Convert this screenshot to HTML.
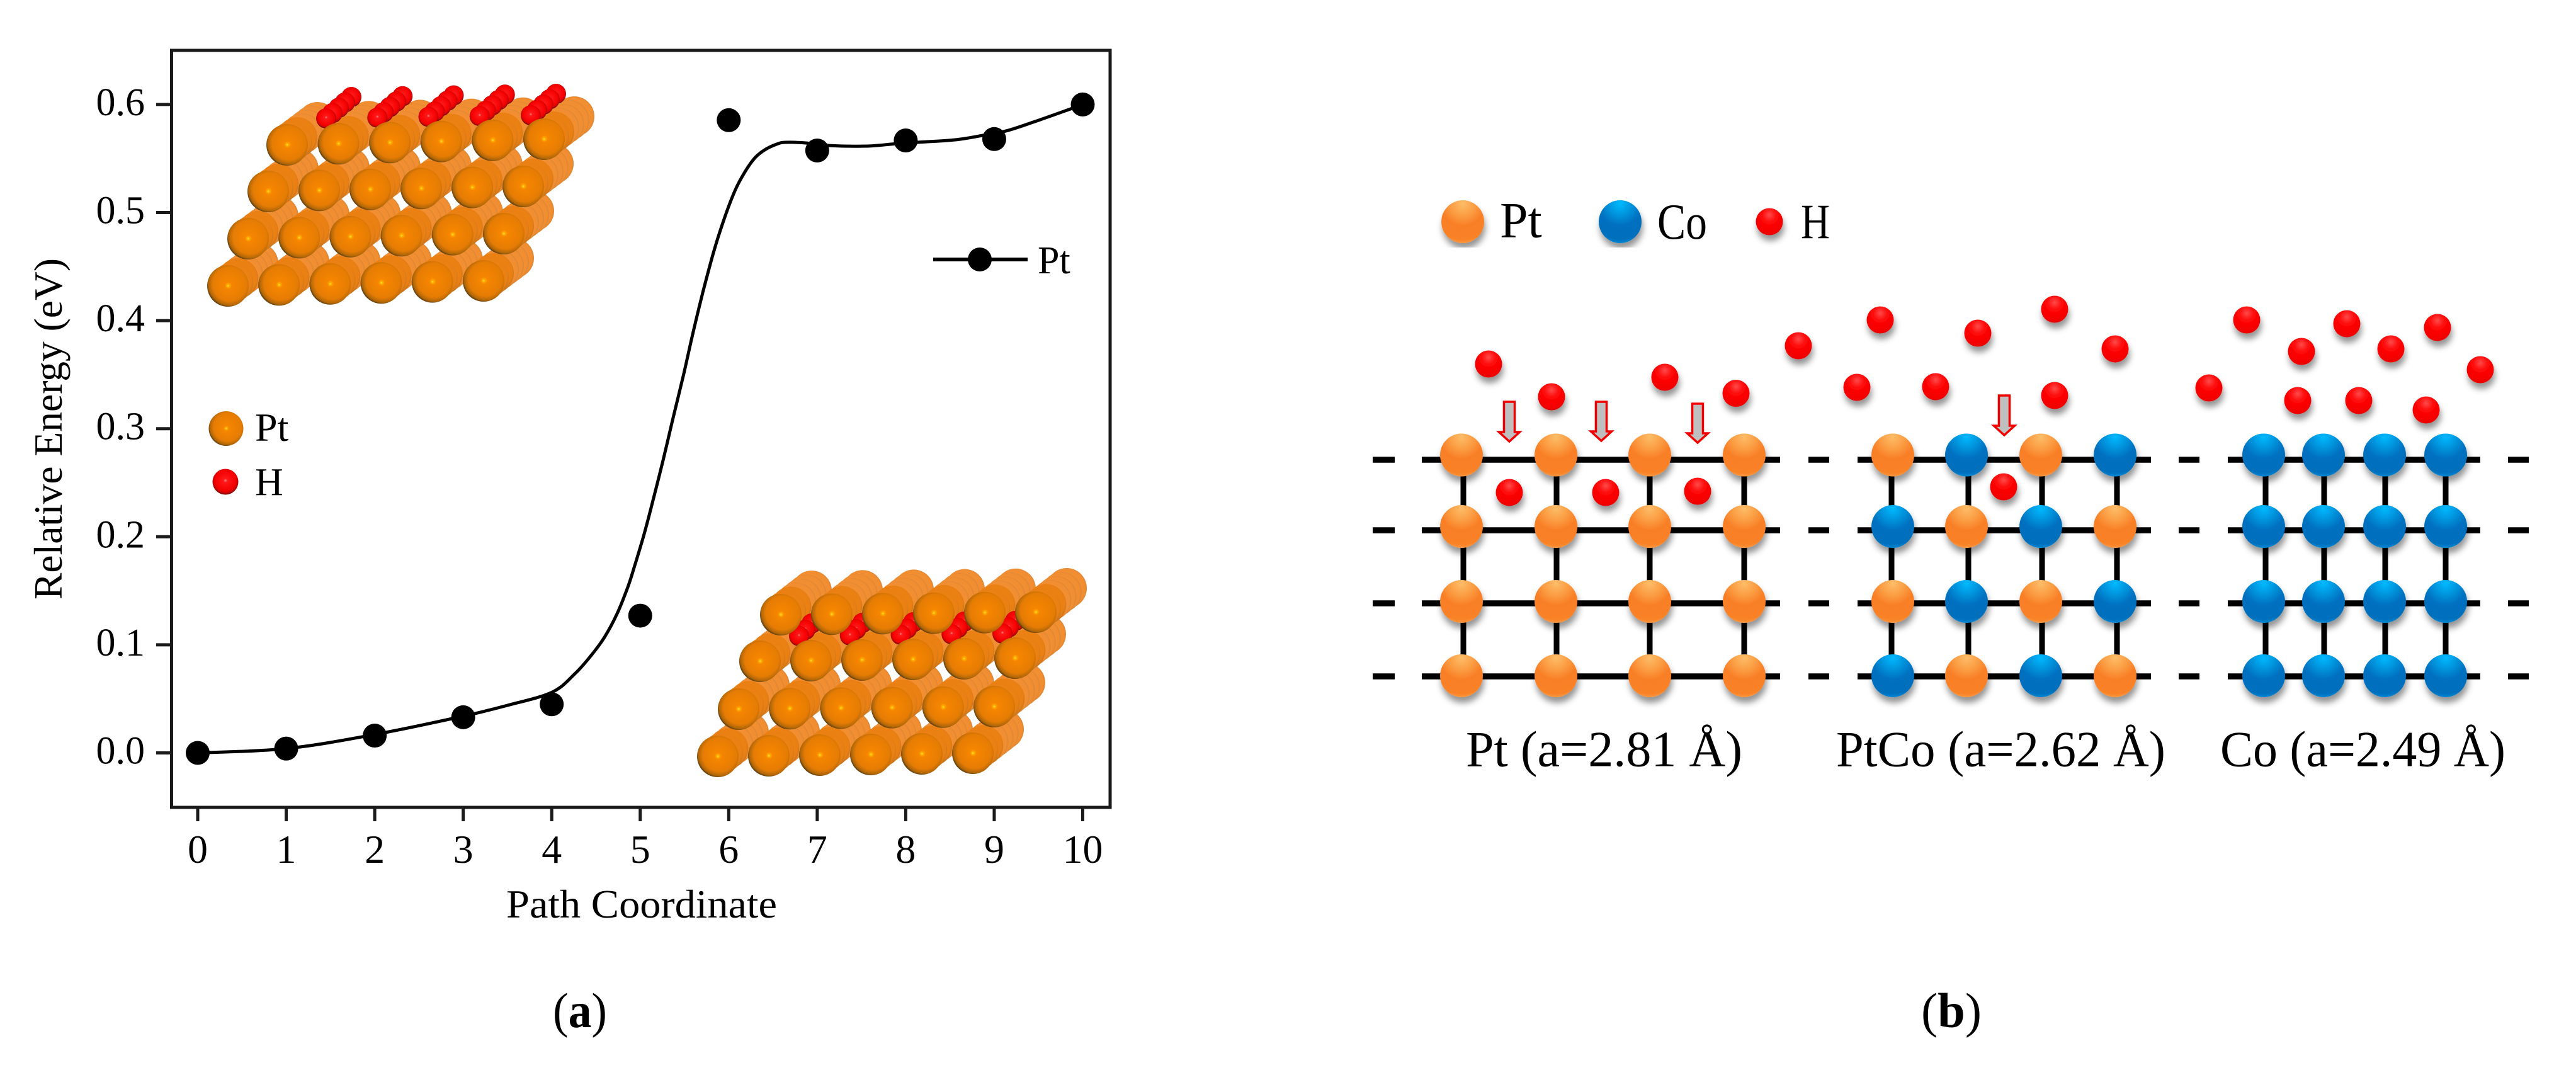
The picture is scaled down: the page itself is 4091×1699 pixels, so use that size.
<!DOCTYPE html>
<html lang="en">
<head>
<meta charset="utf-8">
<title>Pt hydrogen path energy and lattice models</title>
<style>
html,body{margin:0;padding:0;background:#fff;}
svg{display:block;}
text{font-family:"Liberation Serif",serif;fill:#000;}
.ha{fill:url(#hGrad);}
</style>
</head>
<body>
<svg id="fig" xmlns="http://www.w3.org/2000/svg" width="4091" height="1699" viewBox="0 0 4091 1699">
<defs>
<radialGradient id="ptFront" cx="56%" cy="44%" r="58%" fx="50%" fy="50%">
<stop offset="0" stop-color="#ffe848"/><stop offset=".05" stop-color="#ffb000"/><stop offset=".14" stop-color="#f68600"/><stop offset=".7" stop-color="#e67c04"/><stop offset=".9" stop-color="#b06608"/><stop offset="1" stop-color="#5a3c10"/>
</radialGradient>
<radialGradient id="ptMid" cx="50%" cy="46%" r="56%">
<stop offset="0" stop-color="#f08410"/><stop offset=".82" stop-color="#ea8014"/><stop offset="1" stop-color="#b87020"/>
</radialGradient>
<radialGradient id="ptRear" cx="48%" cy="50%" r="55%">
<stop offset="0" stop-color="#f69336"/><stop offset=".85" stop-color="#f28e32"/><stop offset="1" stop-color="#cf8236"/>
</radialGradient>
<radialGradient id="hSlab" cx="50%" cy="45%" r="52%">
<stop offset="0" stop-color="#ff9090"/><stop offset=".14" stop-color="#ff1818"/><stop offset=".78" stop-color="#f40000"/><stop offset=".96" stop-color="#b80808"/><stop offset="1" stop-color="#800404"/>
</radialGradient>
<radialGradient id="orangeGrad" cx="50%" cy="8%" r="98%">
<stop offset="0" stop-color="#fdbd68"/><stop offset=".3" stop-color="#fb9c42"/><stop offset=".52" stop-color="#f97f27"/><stop offset=".85" stop-color="#f98126"/><stop offset="1" stop-color="#fca64e"/>
</radialGradient>
<radialGradient id="blueGrad" cx="50%" cy="8%" r="98%">
<stop offset="0" stop-color="#00baff"/><stop offset=".3" stop-color="#0090da"/><stop offset=".52" stop-color="#0070bf"/><stop offset=".85" stop-color="#006fbd"/><stop offset="1" stop-color="#009ae6"/>
</radialGradient>
<radialGradient id="hGrad" cx="50%" cy="25%" r="80%">
<stop offset="0" stop-color="#ff4a4a"/><stop offset=".35" stop-color="#ff0808"/><stop offset=".8" stop-color="#f40000"/><stop offset="1" stop-color="#e80000"/>
</radialGradient>
<filter id="soft" x="-6%" y="-6%" width="112%" height="116%">
<feDropShadow dx="2" dy="9" stdDeviation="5" flood-color="#000" flood-opacity="0.42"/>
</filter>
</defs>

<g id="panelA">
  <g id="slabs"></g>
  <rect x="272.5" y="80" width="1490.5" height="1202" fill="none" stroke="#1a1a1a" stroke-width="5"/>
  <g id="axes"></g>
  <path id="fitCurve" fill="none" stroke="#000" stroke-width="5" stroke-linejoin="round"/>
  <g id="points"></g>
  <text transform="translate(98,952) rotate(-90)" font-size="64" textLength="542" lengthAdjust="spacingAndGlyphs">Relative Energy (eV)</text>
  <text x="804" y="1457" font-size="64" textLength="430" lengthAdjust="spacingAndGlyphs">Path Coordinate</text>
  <g>
    <line x1="1482" y1="412" x2="1632" y2="412" stroke="#000" stroke-width="6"/>
    <circle cx="1556" cy="412" r="19" fill="#000"/>
    <text x="1648" y="434" font-size="62">Pt</text>
  </g>
  <g>
    <circle cx="359" cy="680.5" r="27.5" fill="url(#ptFront)"/>
    <text x="405" y="700" font-size="64">Pt</text>
    <circle cx="358" cy="765" r="20.5" fill="url(#hSlab)"/>
    <text x="405" y="786" font-size="62">H</text>
  </g>
  <text x="878" y="1631" font-size="78" textLength="86" lengthAdjust="spacingAndGlyphs">(<tspan font-weight="bold">a</tspan>)</text>
</g>

<g id="panelB">
  <g filter="url(#soft)">
    <circle cx="2323" cy="352" r="34" fill="url(#orangeGrad)"/>
    <circle cx="2573" cy="352" r="34" fill="url(#blueGrad)"/>
    <circle class="ha" cx="2810" cy="352" r="21.5"/>
  </g>
  <text x="2382" y="376.5" font-size="80">Pt</text>
  <text x="2632" y="379" font-size="80" textLength="79" lengthAdjust="spacingAndGlyphs">Co</text>
  <text x="2860" y="378" font-size="78" textLength="46" lengthAdjust="spacingAndGlyphs">H</text>

  <g id="latticeLines"></g>
  <g id="latticeAtoms" filter="url(#soft)"></g>

  <g filter="url(#soft)">
    <circle class="ha" cx="2364" cy="578" r="21.5"/>
    <circle class="ha" cx="2464" cy="630" r="21.5"/>
    <circle class="ha" cx="2644" cy="599" r="21.5"/>
    <circle class="ha" cx="2757" cy="624.5" r="21.5"/>
    <circle class="ha" cx="2856" cy="549" r="21.5"/>
    <circle class="ha" cx="2986" cy="508" r="21.5"/>
    <circle class="ha" cx="2949" cy="615" r="21.5"/>
    <circle class="ha" cx="3074" cy="614" r="21.5"/>
    <circle class="ha" cx="2397" cy="782" r="21.5"/>
    <circle class="ha" cx="2550" cy="782" r="21.5"/>
    <circle class="ha" cx="2696" cy="780" r="21.5"/>
    <circle class="ha" cx="3141" cy="529" r="21.5"/>
    <circle class="ha" cx="3263" cy="491" r="21.5"/>
    <circle class="ha" cx="3359" cy="554" r="21.5"/>
    <circle class="ha" cx="3263" cy="628" r="21.5"/>
    <circle class="ha" cx="3182" cy="773" r="21.5"/>
    <circle class="ha" cx="3568" cy="508" r="21.5"/>
    <circle class="ha" cx="3655" cy="558" r="21.5"/>
    <circle class="ha" cx="3727" cy="514" r="21.5"/>
    <circle class="ha" cx="3797" cy="554" r="21.5"/>
    <circle class="ha" cx="3871" cy="520" r="21.5"/>
    <circle class="ha" cx="3939" cy="587" r="21.5"/>
    <circle class="ha" cx="3508" cy="616" r="21.5"/>
    <circle class="ha" cx="3649" cy="636" r="21.5"/>
    <circle class="ha" cx="3746" cy="636" r="21.5"/>
    <circle class="ha" cx="3853" cy="651" r="21.5"/>
  </g>

  <g fill="#bfbfbf" stroke="#f00000" stroke-width="3.5">
    <polygon points="2388.5,638 2405.5,638 2405.5,686 2413.5,686 2397,701 2380.5,686 2388.5,686"/>
    <polygon points="2534.5,638 2551.5,638 2551.5,685 2559.5,685 2543,700 2526.5,685 2534.5,685"/>
    <polygon points="2687.5,641 2704.5,641 2704.5,688 2712.5,688 2696,703 2679.5,688 2687.5,688"/>
    <polygon points="3174.5,628 3191.5,628 3191.5,676 3199.5,676 3183,691 3166.5,676 3174.5,676"/>
  </g>

  <text x="2328" y="1216.5" font-size="80" textLength="439" lengthAdjust="spacingAndGlyphs">Pt (a=2.81 Å)</text>
  <text x="2916" y="1216.5" font-size="80" textLength="523" lengthAdjust="spacingAndGlyphs">PtCo (a=2.62 Å)</text>
  <text x="3526" y="1216.5" font-size="80" textLength="453" lengthAdjust="spacingAndGlyphs">Co (a=2.49 Å)</text>
  <text x="3051" y="1631" font-size="78" textLength="96" lengthAdjust="spacingAndGlyphs">(<tspan font-weight="bold">b</tspan>)</text>
</g>
</svg>

<script>
// Chart data
const pathCoordinates = [0, 1, 2, 3, 4, 5, 6, 7, 8, 9, 10];
const energyValues = [0, 0.004, 0.016, 0.033, 0.045, 0.127, 0.5855, 0.5574, 0.5667, 0.568, 0.6];
const curveCoordinates = [0, 1, 2, 3, 3.5, 4, 4.26, 4.45, 4.6, 4.74, 4.86, 4.93, 5.04, 5.14, 5.26, 5.36, 5.49, 5.59, 5.71, 5.83, 5.95, 6.07, 6.18, 6.3, 6.42, 6.54, 6.64, 6.87, 7.14, 7.56, 7.87, 8.13, 8.56, 8.87, 9.13, 9.46, 9.86, 10];
const curveEnergies = [0, 0.004, 0.017, 0.034, 0.044, 0.056, 0.0731, 0.0906, 0.1075, 0.129, 0.1535, 0.1712, 0.2013, 0.2322, 0.2713, 0.306, 0.35, 0.3865, 0.4269, 0.4636, 0.4945, 0.5201, 0.5372, 0.551, 0.5586, 0.5632, 0.565, 0.5644, 0.562, 0.5615, 0.5635, 0.565, 0.5673, 0.5714, 0.5754, 0.5842, 0.5958, 0.6];
const xTickLabels = ['0', '1', '2', '3', '4', '5', '6', '7', '8', '9', '10'];
const yTickLabels = ['0.0', '0.1', '0.2', '0.3', '0.4', '0.5', '0.6'];

const NS = 'http://www.w3.org/2000/svg';
function sx(v) { return 314 + 140.55 * v; }
function sy(v) { return 1195.5 - 1716 * v; }
function make(tag, parent, attrs) {
  const el = document.createElementNS(NS, tag);
  for (const k in attrs) el.setAttribute(k, attrs[k]);
  parent.appendChild(el);
  return el;
}

// Axes
const axes = document.getElementById('axes');
xTickLabels.forEach(function (label) {
  const v = Number(label);
  const tick = make('line', axes, { x1: sx(v), x2: sx(v), y1: 1282, y2: 1304, stroke: '#1a1a1a', 'stroke-width': 5 });
  
  
  const text = make('text', axes, { x: sx(v), y: 1370, 'font-size': 64, 'text-anchor': 'middle' });
  text.textContent = label;
  
  
});
yTickLabels.forEach(function (label) {
  const v = Number(label);
  const tick = make('line', axes, { x1: 248, x2: 272, y1: sy(v), y2: sy(v), stroke: '#1a1a1a', 'stroke-width': 5 });
  
  
  const text = make('text', axes, { x: 230, y: sy(v) + 17, 'font-size': 62, 'text-anchor': 'end' });
  text.textContent = label;
  
  
});

// Series: smooth path through the read curve values (Catmull-Rom to Bezier)
function smoothPath(xs, ys) {
  const p = xs.map(function (x, i) { return [sx(x), sy(ys[i])]; });
  let d = 'M' + p[0][0].toFixed(1) + ' ' + p[0][1].toFixed(1);
  for (let i = 0; i < p.length - 1; i++) {
    const a = p[Math.max(i - 1, 0)], b = p[i], c = p[i + 1], e = p[Math.min(i + 2, p.length - 1)];
    const c1x = b[0] + (c[0] - a[0]) / 6, c1y = b[1] + (c[1] - a[1]) / 6;
    const c2x = c[0] - (e[0] - b[0]) / 6, c2y = c[1] - (e[1] - b[1]) / 6;
    d += ' C' + c1x.toFixed(1) + ' ' + c1y.toFixed(1) + ' ' + c2x.toFixed(1) + ' ' + c2y.toFixed(1) + ' ' + c[0].toFixed(1) + ' ' + c[1].toFixed(1);
  }
  return d;
}
document.getElementById('fitCurve').setAttribute('d', smoothPath(curveCoordinates, curveEnergies));
const points = document.getElementById('points');
pathCoordinates.forEach(function (x, i) {
  const dot = make('circle', points, { cx: sx(x), cy: sy(energyValues[i]), r: 19, fill: '#000' });
  
  
});

// Slab models (illustration)
function drawSlab(name, rows, dx, dy, hFront, hLast, hDx, hDy, hCount, rods) {
  const group = make('g', document.getElementById('slabs'), {});
  
  
  const depth = 6;
  for (let d = depth; d >= 0; d--) {
    rows.forEach(function (row) {
      for (let i = 0; i < rods; i++) {
        const fx = row[0] + (row[2] - row[0]) * i / (rods - 1);
        const fy = row[1] + (row[3] - row[1]) * i / (rods - 1);
        const fill = d === 0 ? 'url(#ptFront)' : (d < 3 ? 'url(#ptMid)' : 'url(#ptRear)');
        const atom = make('circle', group, { cx: fx + dx * d / depth, cy: fy + dy * d / depth, r: d === 0 ? 33 : 32, fill: fill });
        
        
      }
    });
    if (d === 1) {
      for (let k = 0; k < hFront.count; k++) {
        const hx = hFront.x + (hLast.x - hFront.x) * k / (hFront.count - 1);
        const hy = hFront.y + (hLast.y - hFront.y) * k / (hFront.count - 1);
        for (let m = hCount - 1; m >= 0; m--) {
          const h = make('circle', group, { cx: hx + hDx * m / (hCount - 1), cy: hy + hDy * m / (hCount - 1), r: 16, fill: 'url(#hSlab)' });
          
          
        }
      }
    }
  }
}
drawSlab('slab-initial-state',
  [[456, 230, 864, 221], [426, 304, 831, 296], [394, 379, 800, 371], [362, 454, 768, 446]],
  48, -36, { x: 518, y: 188, count: 5 }, { x: 843, y: 183 }, 40, -34, 5, 6);
drawSlab('slab-final-state',
  [[1240, 976, 1645, 972], [1207, 1050, 1612, 1045], [1173, 1126, 1579, 1122], [1140, 1201, 1545, 1196]],
  49, -38, { x: 1269, y: 1010, count: 5 }, { x: 1592, y: 1006 }, 20, -20, 3, 6);

// Lattice models (illustration)
const lineY = [730, 842, 958, 1074];
const atomY = [722.5, 836, 955, 1073];
const segs = [[2180, 2215], [2258, 2827], [2872, 2905], [2950, 3416], [3460, 3493], [3538, 3939], [3983, 4016]];
const lines = document.getElementById('latticeLines');
lineY.forEach(function (y) {
  segs.forEach(function (s) {
    const seg = make('line', lines, { x1: s[0], x2: s[1], y1: y, y2: y, stroke: '#000', 'stroke-width': 9.5 });
    
    
  });
});
function drawLattice(colX, lineX, pick) {
  const atoms = document.getElementById('latticeAtoms');
  lineX.forEach(function (x) {
    const bond = make('line', lines, { x1: x, x2: x, y1: lineY[0], y2: lineY[3], stroke: '#000', 'stroke-width': 9 });
    
    
  });
  atomY.forEach(function (y, r) {
    colX.forEach(function (x, c) {
      const isPt = pick(r, c);
      const atom = make('circle', atoms, { cx: x, cy: y, r: 34, fill: isPt ? 'url(#orangeGrad)' : 'url(#blueGrad)' });
      
      
    });
  });
}
drawLattice([2321, 2471, 2620, 2770], [2324, 2472, 2620, 2770], function () { return true; });
drawLattice([3006, 3123, 3241, 3359], [3004, 3126, 3243, 3362], function (r, c) { return (r + c) % 2 === 0; });
drawLattice([3595, 3690, 3787, 3884], [3598, 3691, 3788, 3884], function () { return false; });
</script>
</body>
</html>
